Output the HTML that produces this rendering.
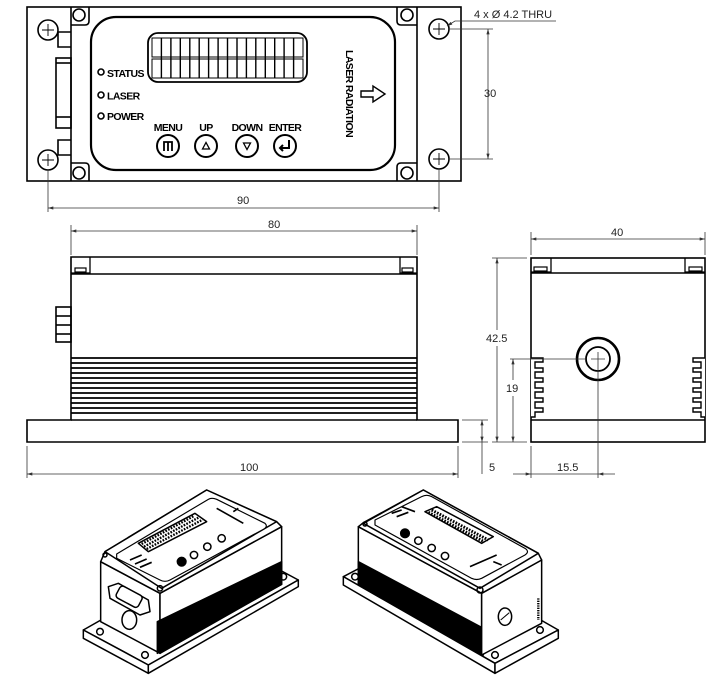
<!DOCTYPE html>
<html><head><meta charset="utf-8"><style>
html,body{margin:0;padding:0;background:#fff}
svg{display:block}
.d{font-family:"Liberation Sans",sans-serif;font-size:11px;fill:#222}
.b{font-family:"Liberation Sans",sans-serif;font-weight:bold;font-size:10.5px;fill:#000;letter-spacing:-0.6px}
</style></head><body>
<svg width="725" height="698" viewBox="0 0 725 698" xmlns="http://www.w3.org/2000/svg">
<defs>
<marker id="a" viewBox="0 0 10 6" refX="10" refY="3" markerWidth="8" markerHeight="4" orient="auto-start-reverse"><path d="M0,0 L10,3 L0,6 z" fill="#333"/></marker>
</defs>
<g fill="none" stroke="#000" stroke-width="1.6">
<!-- TOP VIEW -->
<rect x="27" y="7" width="434" height="174"/>
<line x1="71" y1="7" x2="71" y2="181"/>
<line x1="417" y1="7" x2="417" y2="181"/>
<circle cx="48" cy="30" r="10"/><circle cx="48" cy="160" r="10"/>
<circle cx="439" cy="29" r="10"/><circle cx="439" cy="159" r="10"/>
<g stroke-width="0.9"><path d="M42,30h12M48,24v12M42,160h12M48,154v12M433,29h12M439,23v12M433,159h12M439,153v12"/></g>
<path d="M71,25 H85 Q89,25 89,21 V7"/><path d="M71,163 H85 Q89,163 89,167 V181"/>
<path d="M417,25 H401 Q397,25 397,21 V7"/><path d="M417,163 H401 Q397,163 397,167 V181"/>
<circle cx="79" cy="15" r="6"/><circle cx="79" cy="173" r="6"/>
<circle cx="407" cy="15" r="6"/><circle cx="407" cy="173" r="6"/>
<!-- left connector -->
<path d="M58,32 H71 M58,32 V47 H71"/>
<rect x="56" y="58" width="15" height="70"/>
<line x1="56" y1="63" x2="71" y2="63"/><line x1="56" y1="117" x2="71" y2="117"/>
<path d="M71,140 H58 V155 H71"/>
<!-- bezel -->
<rect x="91" y="17" width="304" height="153" rx="25" stroke-width="2.2"/>
<rect x="148" y="33" width="159" height="49" rx="10" stroke-width="1.8"/>
<rect x="152" y="38" width="151" height="19" stroke-width="1"/>
<rect x="152" y="59" width="151" height="19" stroke-width="1"/>
<path stroke-width="1.4" d="M161.4,38v40M170.9,38v40M180.3,38v40M189.8,38v40M199.2,38v40M208.6,38v40M218.1,38v40M227.5,38v40M237,38v40M246.4,38v40M255.8,38v40M265.3,38v40M274.7,38v40M284.1,38v40M293.6,38v40"/>
<circle cx="101" cy="72" r="3"/><circle cx="101" cy="95" r="3"/><circle cx="101" cy="116" r="3"/>
<circle cx="168" cy="146" r="11" stroke-width="2"/>
<circle cx="206" cy="146" r="11" stroke-width="2"/>
<circle cx="247" cy="146" r="11" stroke-width="2"/>
<circle cx="285" cy="146" r="11" stroke-width="2"/>
<path d="M164,151 V142 H172 V151 M168,142 V151" stroke-width="1.8"/>
<path d="M202.5,149 L206,142.5 L209.5,149 Z" stroke-width="1.3"/>
<path d="M243.5,143 L247,149.5 L250.5,143 Z" stroke-width="1.3"/>
<path d="M289,140 V148 H280 M283,145 L280,148 L283,151" stroke-width="2"/>
<path d="M361,91 H373 V86 L385,94 L373,102 V97 H361 Z" stroke-width="1.4"/>
<!-- top dims -->
<g stroke="#333" stroke-width="0.8">
<line x1="48" y1="170" x2="48" y2="212"/><line x1="439" y1="169" x2="439" y2="212"/>
<line x1="48" y1="208" x2="439" y2="208" marker-start="url(#a)" marker-end="url(#a)"/>
<line x1="449" y1="29" x2="493" y2="29"/><line x1="449" y1="159" x2="493" y2="159"/>
<line x1="488" y1="29" x2="488" y2="159" marker-start="url(#a)" marker-end="url(#a)"/>
<path d="M556,21 H455 L447,26" marker-end="url(#a)"/>
</g>
<!-- FRONT VIEW -->
<path d="M71,420 V257 H417 V420 H458 V442 H27 V420 Z" fill="#fff"/>
<line x1="71" y1="274" x2="417" y2="274"/>
<path d="M71,273 H90 V257 M400,257 V273 H417" stroke-width="1.3"/>
<rect x="75" y="268" width="11" height="4" stroke-width="1.2"/><rect x="402" y="268" width="11" height="4" stroke-width="1.2"/>
<rect x="56" y="307" width="15" height="35"/>
<line x1="56" y1="316" x2="71" y2="316"/><line x1="56" y1="325" x2="71" y2="325"/><line x1="56" y1="334" x2="71" y2="334"/>
<line x1="71" y1="420" x2="417" y2="420"/>
<g stroke-width="1.8"><path d="M71,358H417M71,363H417M71,368H417M71,373H417M71,378H417M71,383H417M71,388H417M71,393H417M71,398H417M71,403H417M71,408H417M71,413H417"/></g>
<g stroke="#333" stroke-width="0.8">
<line x1="71" y1="225" x2="71" y2="255"/><line x1="417" y1="225" x2="417" y2="255"/>
<line x1="71" y1="231" x2="417" y2="231" marker-start="url(#a)" marker-end="url(#a)"/>
<line x1="27" y1="446" x2="27" y2="478"/><line x1="458" y1="446" x2="458" y2="478"/>
<line x1="27" y1="474" x2="458" y2="474" marker-start="url(#a)" marker-end="url(#a)"/>
</g>
<!-- SIDE VIEW -->
<rect x="531" y="258" width="174" height="184" fill="#fff"/>
<line x1="531" y1="273" x2="705" y2="273"/>
<line x1="531" y1="420" x2="705" y2="420"/>
<path d="M531,272 H551 V258 M685,258 V272 H705" stroke-width="1.3"/>
<rect x="534" y="267" width="13" height="4" stroke-width="1.2"/><rect x="689" y="267" width="13" height="4" stroke-width="1.2"/>
<path d="M531,358 H543 V362 H535 V368 H543 V372 H535 V378 H543 V382 H535 V388 H543 V392 H535 V398 H543 V402 H535 V408 H543 V412 H535 V417 H531" fill="#fff" stroke-width="1.4"/>
<path d="M705,358 H693 V362 H701 V368 H693 V372 H701 V378 H693 V382 H701 V388 H693 V392 H701 V398 H693 V402 H701 V408 H693 V412 H701 V417 H705" fill="#fff" stroke-width="1.4"/>
<circle cx="598" cy="359" r="21" stroke-width="2.6"/>
<circle cx="598" cy="359" r="12" stroke-width="1.8"/>
<g stroke="#333" stroke-width="0.8">
<path d="M591,359h14M598,352v126"/>
<line x1="531" y1="232" x2="531" y2="255"/><line x1="705" y1="232" x2="705" y2="255"/>
<line x1="531" y1="239" x2="705" y2="239" marker-start="url(#a)" marker-end="url(#a)"/>
<line x1="492" y1="258" x2="527" y2="258"/><line x1="492" y1="442" x2="527" y2="442"/>
<line x1="497" y1="258" x2="497" y2="330" marker-start="url(#a)"/><line x1="497" y1="346" x2="497" y2="442" marker-end="url(#a)"/>
<line x1="510" y1="359" x2="586" y2="359"/>
<line x1="513" y1="359" x2="513" y2="380" marker-start="url(#a)"/><line x1="513" y1="396" x2="513" y2="442" marker-end="url(#a)"/>
<line x1="462" y1="420" x2="488" y2="420"/><line x1="462" y1="442" x2="488" y2="442"/>
<path d="M482,420 V442" marker-start="url(#a)" marker-end="url(#a)"/>
<line x1="482" y1="442" x2="482" y2="474"/>
<line x1="531" y1="446" x2="531" y2="478"/>
<line x1="513" y1="474" x2="531" y2="474" marker-end="url(#a)"/><line x1="531" y1="474" x2="598" y2="474"/><line x1="598" y1="474" x2="615" y2="474" marker-start="url(#a)"/>
</g>
<!-- ISO LEFT -->
<g transform="translate(70,480) scale(0.3333)" stroke-width="4.5" stroke-linejoin="round">
<path d="M40,450 L235,555 L685,300 L490,195 Z" fill="#fff"/>
<path d="M40,450 V475 L235,580 V555 Z" fill="#fff"/>
<path d="M235,555 V580 L685,320 V300 Z" fill="#fff"/>
<circle cx="90" cy="455" r="10"/><circle cx="225" cy="525" r="10"/><circle cx="640" cy="290" r="10"/>
<path d="M92,245 L270,340 V520 L92,425 Z" fill="#fff"/>
<path d="M270,340 L635,140 V313 L270,520 Z" fill="#fff"/>
<path d="M262,425 L635,245 V313 L262,520 Z" fill="#000"/>
<path d="M92,245 L105,215 L410,30 L620,125 L635,140 L270,340 Z" fill="#fff"/>
<path d="M105,215 L410,30 L620,125 L275,325 Z" fill="#fff"/>
<path d="M140,222 L415,58 Q425,52 440,58 L585,130 Q595,140 580,148 L300,300 Q285,308 270,300 L140,235 Z" fill="#fff" stroke-width="3.5"/>
<path d="M205,190 L375,100 L410,125 L235,215 Z" fill="#fff"/>
<path d="M215,192 L372,108 M222,200 L385,113 M230,207 L398,119" stroke-width="7" stroke-dasharray="5,4"/>
<circle cx="335" cy="245" r="13" fill="#000"/><circle cx="372" cy="225" r="11"/><circle cx="412" cy="200" r="11"/><circle cx="455" cy="175" r="11"/>
<path d="M180,240 L215,225 M195,252 L230,237 M210,262 L245,247 M440,85 L520,130 M490,95 L505,85" stroke-width="5"/>
<path d="M115,320 L145,310 L235,360 L240,395 L210,405 L120,355 Z" fill="#fff"/>
<rect x="140" y="330" width="75" height="40" rx="10" transform="rotate(28 177 350)" fill="#fff"/>
<ellipse cx="178" cy="420" rx="22" ry="28" fill="#fff"/>
<circle cx="270" cy="325" r="8"/><circle cx="105" cy="225" r="6"/>
</g>
<!-- ISO RIGHT -->
<g transform="translate(330,480) scale(0.3333)" stroke-width="4.5" stroke-linejoin="round">
<path d="M40,290 L495,550 L685,450 L230,190 Z" fill="#fff"/>
<path d="M40,290 V315 L495,580 V550 Z" fill="#fff"/>
<path d="M495,550 V580 L685,475 V450 Z" fill="#fff"/>
<circle cx="75" cy="290" r="10"/><circle cx="495" cy="525" r="10"/><circle cx="630" cy="450" r="10"/>
<path d="M85,140 L455,340 V525 L85,315 Z" fill="#fff"/>
<path d="M85,245 L460,445 V525 L85,315 Z" fill="#000"/>
<path d="M455,340 L635,240 V430 L455,525 Z" fill="#fff"/>
<path d="M625,355 V420" stroke-width="7" stroke-dasharray="4,3"/>
<path d="M85,140 L100,128 L280,30 L625,220 L635,240 L455,340 Z" fill="#fff"/>
<path d="M100,130 L280,30 L625,220 L450,325 Z" fill="#fff"/>
<path d="M135,120 L275,50 Q290,42 305,50 L585,205 Q600,215 585,225 L455,295 Q440,302 425,295 L135,135 Z" fill="#fff" stroke-width="3.5"/>
<path d="M285,95 L320,80 L490,170 L455,190 Z" fill="#fff"/>
<path d="M295,97 L462,185 M305,90 L475,180" stroke-width="9" stroke-dasharray="5,4"/>
<circle cx="225" cy="160" r="13" fill="#000"/><circle cx="265" cy="182" r="11"/><circle cx="305" cy="204" r="11"/><circle cx="345" cy="228" r="11"/>
<path d="M185,100 L215,90 M200,110 L235,97 M215,80 L255,95 M420,260 L500,225 M490,245 L515,255" stroke-width="5"/>
<ellipse cx="525" cy="410" rx="20" ry="26" fill="#fff"/>
<path d="M512,420 L538,398" stroke-width="3"/>
<circle cx="450" cy="330" r="9"/><circle cx="105" cy="132" r="6"/>
</g>
</g>
<!-- TEXT -->
<text class="b" x="107" y="77">STATUS</text>
<text class="b" x="107" y="99.5">LASER</text>
<text class="b" x="107" y="120">POWER</text>
<text class="b" x="168" y="131" text-anchor="middle">MENU</text>
<text class="b" x="206" y="131" text-anchor="middle">UP</text>
<text class="b" x="247" y="131" text-anchor="middle">DOWN</text>
<text class="b" x="285" y="131" text-anchor="middle">ENTER</text>
<text class="b" transform="translate(346,50) rotate(90)">LASER RADIATION</text>
<text class="d" x="474" y="18">4 x Ø 4.2 THRU</text>
<text class="d" x="484" y="97">30</text>
<text class="d" x="237" y="204">90</text>
<text class="d" x="268" y="228">80</text>
<text class="d" x="240" y="471">100</text>
<text class="d" x="611" y="236">40</text>
<text class="d" x="486" y="342">42.5</text>
<text class="d" x="506" y="392">19</text>
<text class="d" x="489" y="471">5</text>
<text class="d" x="557" y="471">15.5</text>
</svg>
</body></html>
